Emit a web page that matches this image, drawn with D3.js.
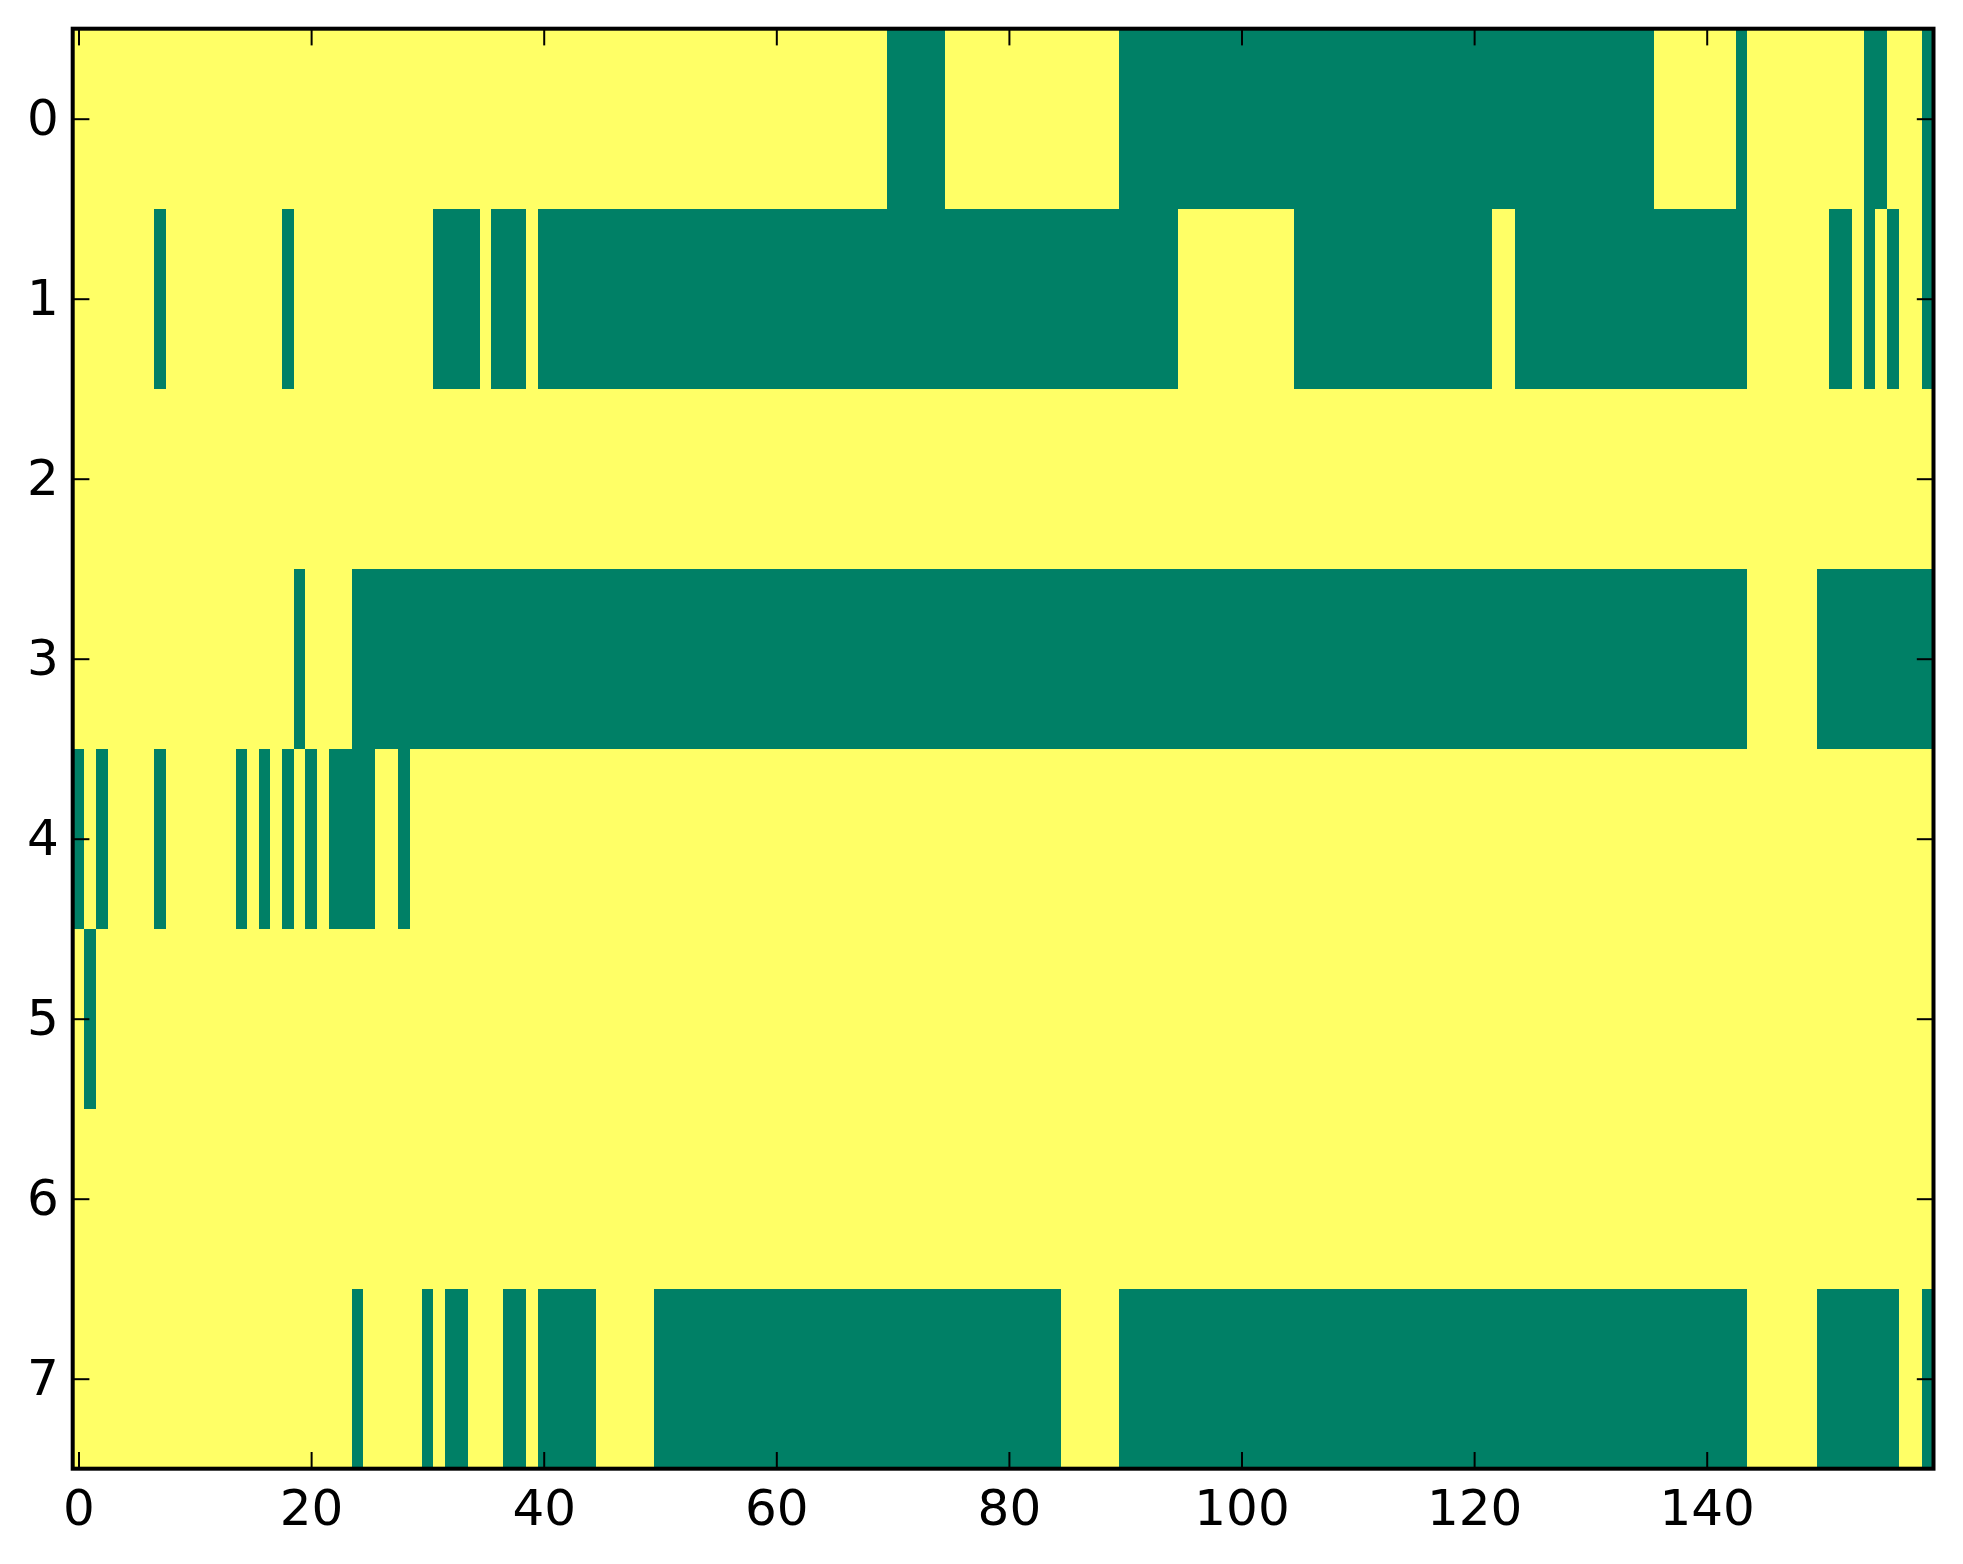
<!DOCTYPE html>
<html>
<head>
<meta charset="utf-8">
<script src="https://cdn.jsdelivr.net/npm/d3@7"></script>
<style>
  body { margin: 0; background: #fff; }
  svg { display: block; }
  .tick text { font-family: "DejaVu Sans", sans-serif; font-size: 50px; fill: #000; }
  .tick line { stroke: #000; stroke-width: 2px; }
</style>
</head>
<body>
<script>

  // green (value 0) runs per row, inclusive column ranges; everything else is 1 (yellow)
  const row0 = [[70, 74], [90, 135], [143, 143], [154, 155], [159, 159]];
  const row1 = [[7, 7], [18, 18], [31, 34], [36, 38], [40, 94], [105, 121], [124, 143],
                [151, 152], [154, 154], [156, 156], [159, 159]];
  const row2 = [];
  const row3 = [[19, 19], [24, 143], [150, 159]];
  const row4 = [[0, 0], [2, 2], [7, 7], [14, 14], [16, 16], [18, 18], [20, 20], [22, 25], [28, 28]];
  const row5 = [[1, 1]];
  const row6 = [];
  const row7 = [[24, 24], [30, 30], [32, 33], [37, 38], [40, 44], [50, 84], [90, 143],
                [150, 156], [159, 159]];

  const nCols = 160;
  const xTicks = [0, 20, 40, 60, 80, 100, 120, 140];
  const yTicks = [0, 1, 2, 3, 4, 5, 6, 7];

  const rows = [row0, row1, row2, row3, row4, row5, row6, row7];

  const margin = {top: 28.7, left: 72.7};
  const width = 1860.8;
  const height = 1440;

  const svg = d3.select('body')
    .append('svg')
    .attr('width', 1963)
    .attr('height', 1564)
    .append('g')
    .attr('transform', 'translate(' + margin.left + ',' + margin.top + ')');

  let x = d3.scaleLinear()
      .domain([-0.5, nCols - 0.5])
      .range([0, width]);

  let y = d3.scaleLinear()
      .domain([-0.5, rows.length - 0.5])
      .range([0, height]);

  // summer colormap end points
  let color = d3.scaleLinear()
      .domain([0, 1])
      .range(['#008066', '#ffff66']);

  let cells = [];
  rows.forEach(function(runs, r){
    for (let c = 0; c < nCols; c++){
      let v = runs.some(function(run){ return c >= run[0] && c <= run[1]; }) ? 0 : 1;
      cells.push({row: r, col: c, value: v});
    }
  });

  svg.selectAll('.cell')
    .data(cells)
    .enter().append('rect')
      .attr('class', 'cell')
      .attr('x', function(d){ return x(d.col - 0.5); })
      .attr('y', function(d){ return y(d.row - 0.5); })
      .attr('width', function(d){ return x(d.col + 0.5) - x(d.col - 0.5) + 0.5; })
      .attr('height', function(d){ return y(d.row + 0.5) - y(d.row - 0.5) + 0.5; })
      .attr('fill', function(d){ return color(d.value); })
      .attr('shape-rendering', 'crispEdges');

  const tickLen = 16.7;

  svg.append('g')
    .attr('transform', 'translate(0,' + height + ')')
    .call(d3.axisBottom(x).tickValues(xTicks).tickSizeInner(-tickLen).tickSizeOuter(0).tickPadding(21));

  svg.append('g')
    .call(d3.axisTop(x).tickValues(xTicks).tickSizeInner(-tickLen).tickSizeOuter(0).tickFormat(''));

  svg.append('g')
    .call(d3.axisLeft(y).tickValues(yTicks).tickSizeInner(-tickLen).tickSizeOuter(0).tickPadding(14));

  svg.append('g')
    .attr('transform', 'translate(' + width + ',0)')
    .call(d3.axisRight(y).tickValues(yTicks).tickSizeInner(-tickLen).tickSizeOuter(0).tickFormat(''));

  svg.selectAll('.domain').remove();

  svg.append('rect')
    .attr('width', width)
    .attr('height', height)
    .attr('fill', 'none')
    .attr('stroke', '#000')
    .attr('stroke-width', 4);

</script>
</body>
</html>
